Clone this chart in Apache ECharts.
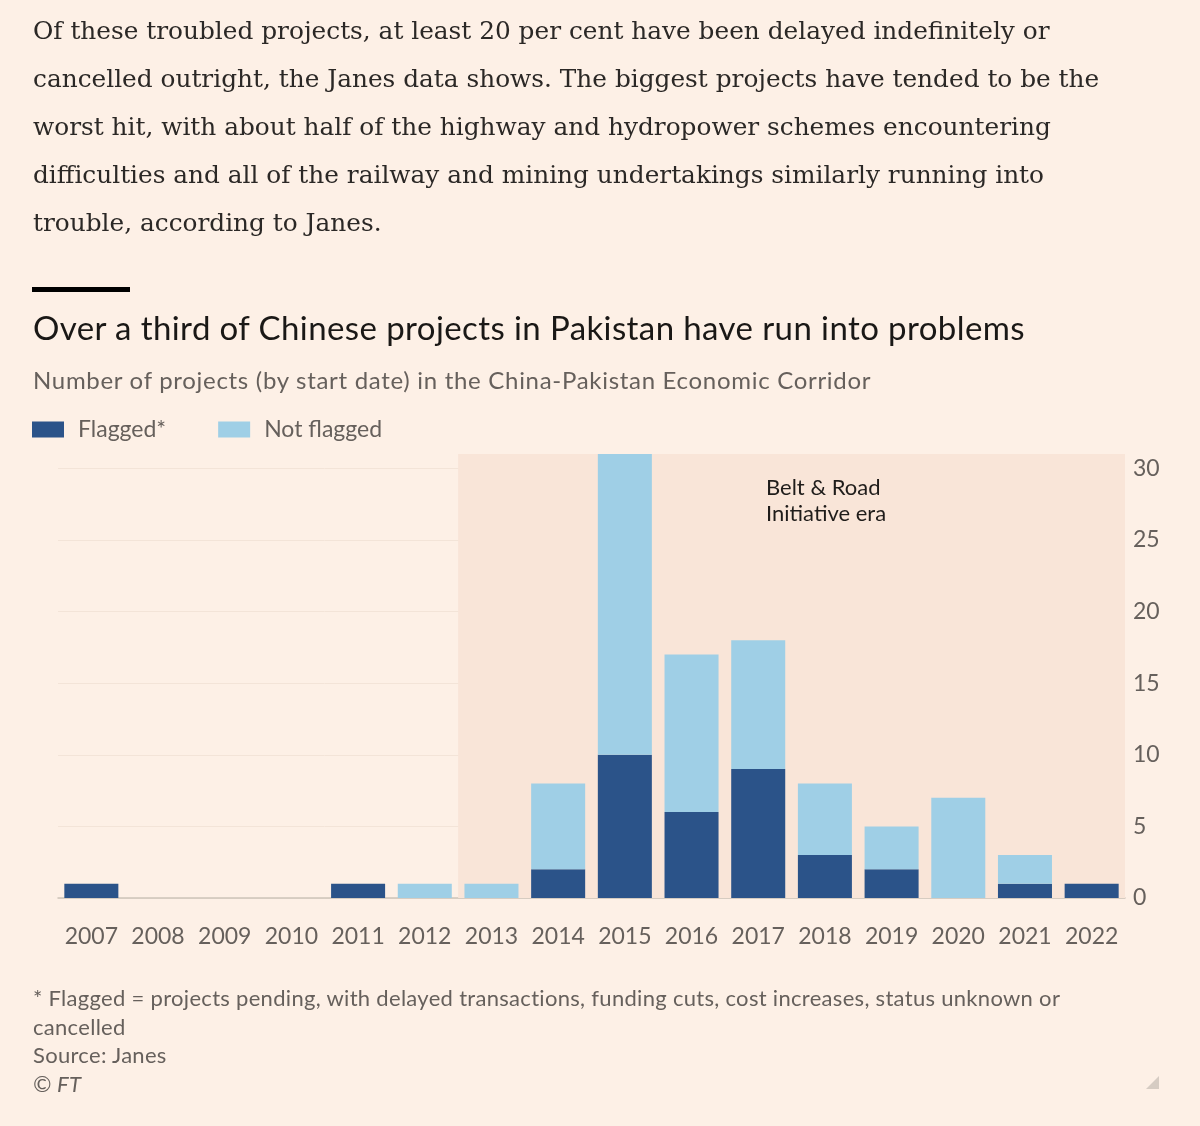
<!DOCTYPE html>
<html>
<head>
<meta charset="utf-8">
<script src="https://cdn.jsdelivr.net/npm/echarts@6/dist/echarts.min.js"></script>
<style>
  html, body { margin: 0; padding: 0; background: #fdf0e6; }
  #page { position: relative; width: 1200px; height: 1126px; overflow: hidden; }
  #chart { position: absolute; left: 0; top: 0; width: 1200px; height: 1126px; }
  .txt { position: absolute; left: 33px; white-space: nowrap; }
  #para { top: 7px; font-family: "DejaVu Serif", Georgia, serif; font-size: 24.8px; line-height: 48px; color: #2b2826; }
  #rule { position: absolute; left: 32px; top: 287px; width: 98px; height: 5px; background: #000; }
  #title { top: 306px; font-family: Lato, sans-serif; font-size: 33px; letter-spacing: 0.4px; line-height: 42px; color: #1a1816; }
  #sub { top: 365px; font-family: Lato, sans-serif; font-size: 24px; letter-spacing: 0.7px; line-height: 30px; color: #66605c; }
  #foot { top: 984px; font-family: Lato, sans-serif; font-size: 22px; letter-spacing: 0.3px; line-height: 28.5px; color: #66605c; }
  #grip { position: absolute; left: 1146px; top: 1076px; width: 0; height: 0;
          border-left: 13px solid transparent; border-bottom: 13px solid #d6ccc3; }
</style>
</head>
<body>
<div id="page">
  <div id="chart"></div>
  <div id="para" class="txt">Of these troubled projects, at least 20 per cent have been delayed indefinitely or<br>cancelled outright, the Janes data shows. The biggest projects have tended to be the<br>worst hit, with about half of the highway and hydropower schemes encountering<br>difficulties and all of the railway and mining undertakings similarly running into<br>trouble, according to Janes.</div>
  <div id="rule"></div>
  <div id="title" class="txt">Over a third of Chinese projects in Pakistan have run into problems</div>
  <div id="sub" class="txt">Number of projects (by start date) in the China-Pakistan Economic Corridor</div>
  <div id="foot" class="txt">* Flagged = projects pending, with delayed transactions, funding cuts, cost increases, status unknown or<br>cancelled<br>Source: Janes<br><i>© FT</i></div>
  <div id="grip"></div>
</div>
<script>
// data
var years = ['2007','2008','2009','2010','2011','2012','2013','2014','2015','2016','2017','2018','2019','2020','2021','2022'];
var flagged    = [1, 0, 0, 0, 1, 0, 0, 2, 10, 6, 9, 3, 2, 0, 1, 1];
var notFlagged = [0, 0, 0, 0, 0, 1, 1, 6, 21, 11, 9, 5, 3, 7, 2, 0];
var eraStart = 5.5;   // boundary between 2012 and 2013
var eraEnd = 15.5;
var yMax = 31;

var sans = 'Lato, sans-serif';
var grey = '#66605c';

function draw_chart(id){
    var myChart = echarts.init(document.getElementById(id));
    var option = {
        backgroundColor: 'transparent',
        animation: false,
        legend: {
            left: 27,
            top: 413,
            itemWidth: 32,
            itemHeight: 16,
            itemGap: 52,
            icon: 'rect',
            data: ['Flagged*', 'Not flagged'],
            textStyle: { fontFamily: sans, fontSize: 23, color: grey, padding: [0, 0, 0, 9] }
        },
        grid: { left: 58, right: 75, top: 454, bottom: 228 },
        xAxis: [
            {
                type: 'category',
                data: years,
                axisLine: { lineStyle: { color: '#cdc3b9', width: 1.5 } },
                axisTick: { alignWithLabel: true, length: 20, lineStyle: { color: '#d8cec5' } },
                axisLabel: { interval: 0, hideOverlap: false, margin: 27, fontFamily: sans, fontSize: 23, color: grey }
            },
            {
                type: 'value', min: -0.5, max: 15.5, show: false
            }
        ],
        yAxis: {
            type: 'value',
            position: 'right',
            min: 0,
            max: yMax,
            interval: 5,
            axisLine: { show: false },
            axisTick: { show: false },
            splitLine: { showMaxLine: false, lineStyle: { color: '#f3e4d8', width: 1 } },
            axisLabel: {
                margin: 8, fontFamily: sans, fontSize: 23, color: grey,
                showMaxLabel: false,
                formatter: function (v) { return v % 5 === 0 ? v : ''; }
            }
        },
        series: [
            {
                name: 'era',
                type: 'line',
                xAxisIndex: 1,
                data: [],
                silent: true,
                z: 0,
                markArea: {
                    silent: true,
                    itemStyle: { color: '#f9e5d8' },
                    data: [[{ xAxis: eraStart, yAxis: 0 }, { xAxis: eraEnd, yAxis: yMax }]]
                }
            },
            {
                name: 'Flagged*',
                type: 'bar',
                stack: 'total',
                barCategoryGap: '19%',
                itemStyle: { color: '#2b5389' },
                data: flagged
            },
            {
                name: 'Not flagged',
                type: 'bar',
                stack: 'total',
                barCategoryGap: '19%',
                itemStyle: { color: '#9fcfe6' },
                data: notFlagged
            }
        ],
        graphic: [
            {
                type: 'text',
                left: 766,
                top: 475,
                z: 100,
                style: {
                    text: 'Belt & Road\nInitiative era',
                    fontSize: 22,
                    fontFamily: sans,
                    lineHeight: 26,
                    fill: '#1f1c1a'
                }
            }
        ]
    };
    myChart.setOption(option);
}

draw_chart('chart');
</script>
</body>
</html>
